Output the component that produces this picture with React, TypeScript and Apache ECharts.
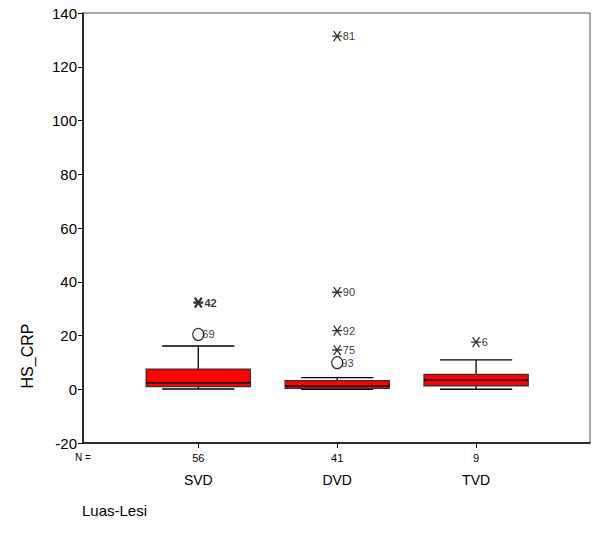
import React, { useEffect, useRef } from "react";
import * as echarts from "echarts";

const categories = ["SVD", "DVD", "TVD"];
const counts = [56, 41, 9];
// [low whisker, q1, median, q3, high whisker]
const boxStats = [
  [0.1, 1.0, 2.4, 7.5, 16.1],
  [0.0, 0.35, 1.2, 3.2, 4.3],
  [0.0, 1.3, 3.4, 5.5, 10.9],
];
// outliers (circles): [category index, value, case label]
const outliers: [number, number, string][] = [
  [0, 20.4, "69"],
  [1, 9.9, "93"],
];
// extremes (stars): [category index, value, case label]
const extremes: [number, number, string][] = [
  [0, 32.2, "42"],
  [1, 131.4, "81"],
  [1, 36.1, "90"],
  [1, 21.8, "92"],
  [1, 14.6, "75"],
  [2, 17.5, "6"],
];
const yTicks = { min: -20, max: 140, interval: 20 };

const FONT = "'Liberation Sans', Arial, sans-serif";
const STAR = "path://M0,5L10,5M1.5,0.5L8.5,9.5M1.5,9.5L8.5,0.5";

export default function App() {
  const ref = useRef<HTMLDivElement>(null);
  useEffect(() => {
    if (!ref.current) return;
    const chart = echarts.init(ref.current, null, { renderer: "svg" });
    const boxData = boxStats.map((s, i) => [i + 1, ...s]);
    chart.setOption({
      animation: false,
      textStyle: { fontFamily: FONT },
      grid: {
        left: 83,
        top: 13,
        width: 507,
        height: 430,
        show: true,
        borderColor: "#555",
        borderWidth: 1,
        backgroundColor: "#fff",
      },
      xAxis: {
        type: "value",
        min: 0.17,
        max: 3.82,
        splitLine: { show: false },
        axisLine: { show: true, onZero: false, lineStyle: { color: "#000", width: 1.5 } },
        axisTick: { show: true, length: 5, customValues: [1, 2, 3], lineStyle: { color: "#000" } },
        axisLabel: {
          customValues: [1, 2, 3],
          margin: 8,
          formatter: (v: number) => {
            const i = Math.round(v) - 1;
            return `{n|${counts[i]}}\n{c|${categories[i]}}`;
          },
          rich: {
            n: { fontSize: 11, lineHeight: 14, color: "#000", fontFamily: FONT },
            c: { fontSize: 14, lineHeight: 30, color: "#000", fontFamily: FONT },
          },
        },
      },
      yAxis: {
        type: "value",
        min: yTicks.min,
        max: yTicks.max,
        interval: yTicks.interval,
        splitLine: { show: false },
        axisLine: { show: true, onZero: false, lineStyle: { color: "#000", width: 1.5 } },
        axisTick: { show: true, length: 5, lineStyle: { color: "#000" } },
        axisLabel: {
          color: "#000",
          margin: 6,
          formatter: (v: number) => `{t|${v}}`,
          rich: { t: { fontSize: 15, color: "#000", fontFamily: FONT } },
        },
      },
      graphic: [
        {
          type: "text",
          left: 75,
          top: 452,
          style: { text: "N =", fontSize: 10, fill: "#000", fontFamily: FONT },
        },
        {
          type: "text",
          x: 27,
          y: 356,
          rotation: Math.PI / 2,
          style: {
            text: "HS_CRP",
            fontSize: 16,
            fill: "#000",
            fontFamily: FONT,
            align: "center",
            verticalAlign: "middle",
          },
        },
        {
          type: "text",
          left: 82,
          top: 503,
          style: { text: "Luas-Lesi", fontSize: 15, fill: "#000", fontFamily: FONT },
        },
      ],
      series: [
        {
          type: "custom",
          data: boxData,
          encode: { x: 0, y: [1, 2, 3, 4, 5] },
          renderItem: (params: any, api: any) => {
            const x = api.value(0);
            const low = api.coord([x, api.value(1)]);
            const q1 = api.coord([x, api.value(2)]);
            const med = api.coord([x, api.value(3)]);
            const q3 = api.coord([x, api.value(4)]);
            const high = api.coord([x, api.value(5)]);
            const unit = api.size([1, 0])[0];
            const bw = unit * 0.75;
            const cw = unit * 0.52;
            const cx = low[0];
            const line = (x1: number, y1: number, x2: number, y2: number, w = 1.3) => ({
              type: "line",
              shape: { x1, y1, x2, y2 },
              style: { stroke: "#000", lineWidth: w },
            });
            return {
              type: "group",
              children: [
                line(cx, high[1], cx, q3[1]),
                line(cx, low[1], cx, q1[1]),
                line(cx - cw / 2, high[1], cx + cw / 2, high[1]),
                line(cx - cw / 2, low[1], cx + cw / 2, low[1]),
                {
                  type: "rect",
                  shape: { x: cx - bw / 2, y: q3[1], width: bw, height: q1[1] - q3[1] },
                  style: { fill: "#ff0000", stroke: "#333", lineWidth: 1.3 },
                },
                line(cx - bw / 2, med[1], cx + bw / 2, med[1], 1.5),
              ],
            };
          },
        },
        {
          type: "scatter",
          data: outliers.map(([i, v, l]) => ({ value: [i + 1, v], name: l })),
          symbol: "circle",
          symbolSize: [11, 12],
          itemStyle: { color: "rgba(255,255,255,0)", borderColor: "#000", borderWidth: 1.2 },
          label: {
            show: true,
            position: "right",
            distance: -2,
            formatter: (p: any) => p.name,
            fontSize: 11,
            color: "#000",
            fontFamily: FONT,
          },
          z: 5,
        },
        {
          type: "scatter",
          data: extremes.map(([i, v, l]) => ({
            value: [i + 1, v],
            name: l,
            ...(l === "42"
              ? {
                  itemStyle: { borderWidth: 2.2 },
                  label: { fontWeight: "bold" },
                }
              : {}),
          })),
          symbol: STAR,
          symbolSize: 10,
          itemStyle: { color: "rgba(0,0,0,0)", borderColor: "#000", borderWidth: 1.3 },
          label: {
            show: true,
            position: "right",
            distance: 0,
            formatter: (p: any) => p.name,
            fontSize: 11,
            color: "#000",
            fontFamily: FONT,
          },
          z: 5,
        },
      ],
    });
    return () => chart.dispose();
  }, []);
  return (
    <div
      ref={ref}
      style={{ position: "fixed", left: 0, top: 0, width: 592, height: 546, background: "#fff" }}
    />
  );
}
